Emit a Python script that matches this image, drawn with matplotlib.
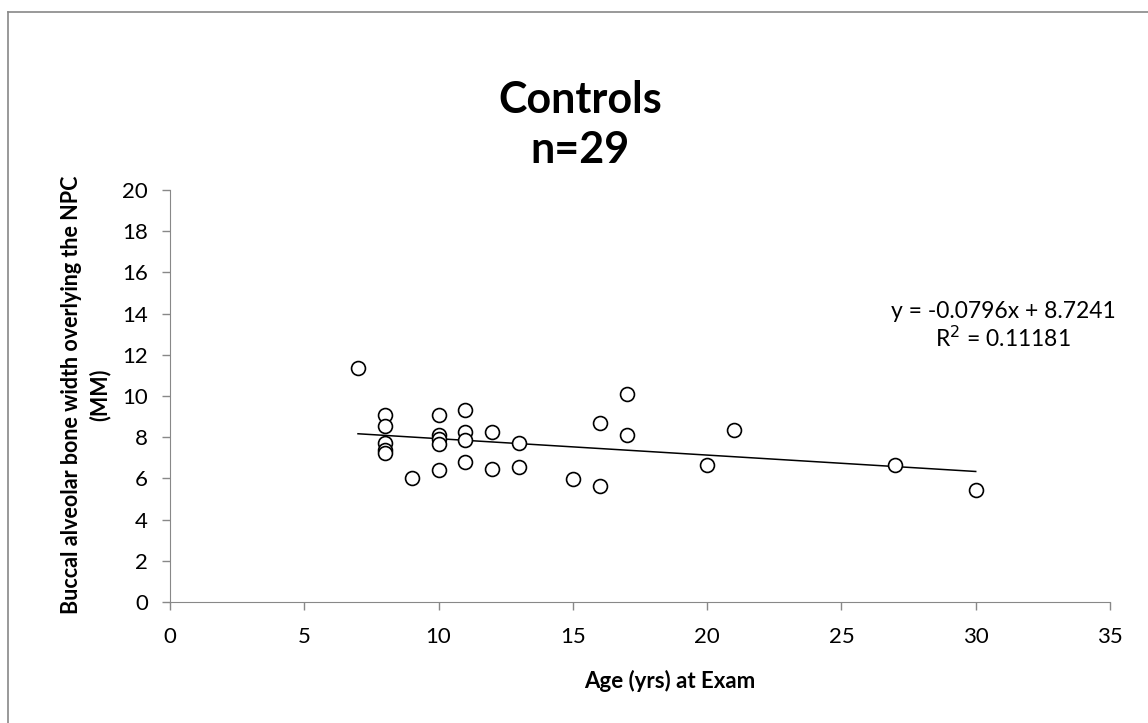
import matplotlib
matplotlib.use("Agg")
import matplotlib.pyplot as plt
from matplotlib.lines import Line2D

plt.rcParams['font.family'] = ['Lato', 'DejaVu Sans']

# data
age = [7, 8, 8, 8, 8, 8, 9, 10, 10, 10, 10, 10, 11, 11, 11, 11,
       12, 12, 13, 13, 15, 16, 16, 17, 17, 20, 21, 27, 30]
width_mm = [11.35, 9.07, 8.53, 7.72, 7.37, 7.24, 6.02, 9.07, 8.10, 7.89, 7.69, 6.43,
            9.31, 8.26, 7.86, 6.80, 8.26, 6.48, 7.72, 6.56, 5.95, 8.70, 5.62,
            10.08, 8.13, 6.64, 8.34, 6.64, 5.46]

slope = -0.0796
intercept = 8.7241
r_squared = 0.11181

x_ticks = [0, 5, 10, 15, 20, 25, 30, 35]
y_ticks = [0, 2, 4, 6, 8, 10, 12, 14, 16, 18, 20]

W, H = 1148, 723
fig = plt.figure(figsize=(W / 100, H / 100), dpi=100)
ax = fig.add_axes([170 / W, 1 - 602 / H, 940 / W, 412 / H])

ax.scatter(age, width_mm, s=100, facecolors='white', edgecolors='black', linewidths=1.2, zorder=3)

# linear trendline
x0, x1 = min(age), max(age)
ax.plot([x0, x1], [slope * x0 + intercept, slope * x1 + intercept], color='black', lw=1.1, zorder=2)

ax.set_xlim(0, 35)
ax.set_ylim(0, 20)
ax.set_xticks(x_ticks)
ax.set_yticks(y_ticks)
ax.tick_params(labelsize=16, colors='#888888', labelcolor='black', length=6, width=1)
ax.tick_params(axis='x', pad=12)
ax.tick_params(axis='y', pad=10)
for side in ('top', 'right'):
    ax.spines[side].set_visible(False)
for side in ('left', 'bottom'):
    ax.spines[side].set_color('#888888')

fig.text(670 / W, 1 - 681 / H, 'Age (yrs) at Exam', ha='center', va='center',
         fontsize=16, fontweight='bold')
fig.text(72 / W, 1 - 395 / H, 'Buccal alveolar bone width overlying the NPC', rotation=90,
         ha='center', va='center', fontsize=15.5, fontweight='bold')
fig.text(100 / W, 1 - 395 / H, '(MM)', rotation=90,
         ha='center', va='center', fontsize=15.5, fontweight='bold')

fig.text(580 / W, 1 - 100 / H, 'Controls', ha='center', va='center', fontsize=31, fontweight='bold')
fig.text(580 / W, 1 - 150 / H, 'n=29', ha='center', va='center', fontsize=31, fontweight='bold')

fig.text(1003 / W, 1 - 312 / H, f'y = {slope}x + {intercept}', ha='center', va='center', fontsize=16.5)
fig.text(1003 / W, 1 - 338 / H, f'R$^2$ = {r_squared}', ha='center', va='center', fontsize=16.5)

# outer chart frame (only top and left edges visible)
fig.add_artist(Line2D([8 / W, 1], [1 - 12 / H, 1 - 12 / H], color='#888888', lw=1.2))
fig.add_artist(Line2D([8 / W, 8 / W], [0, 1 - 12 / H], color='#888888', lw=1.2))

fig.savefig('out.png', dpi=100)
